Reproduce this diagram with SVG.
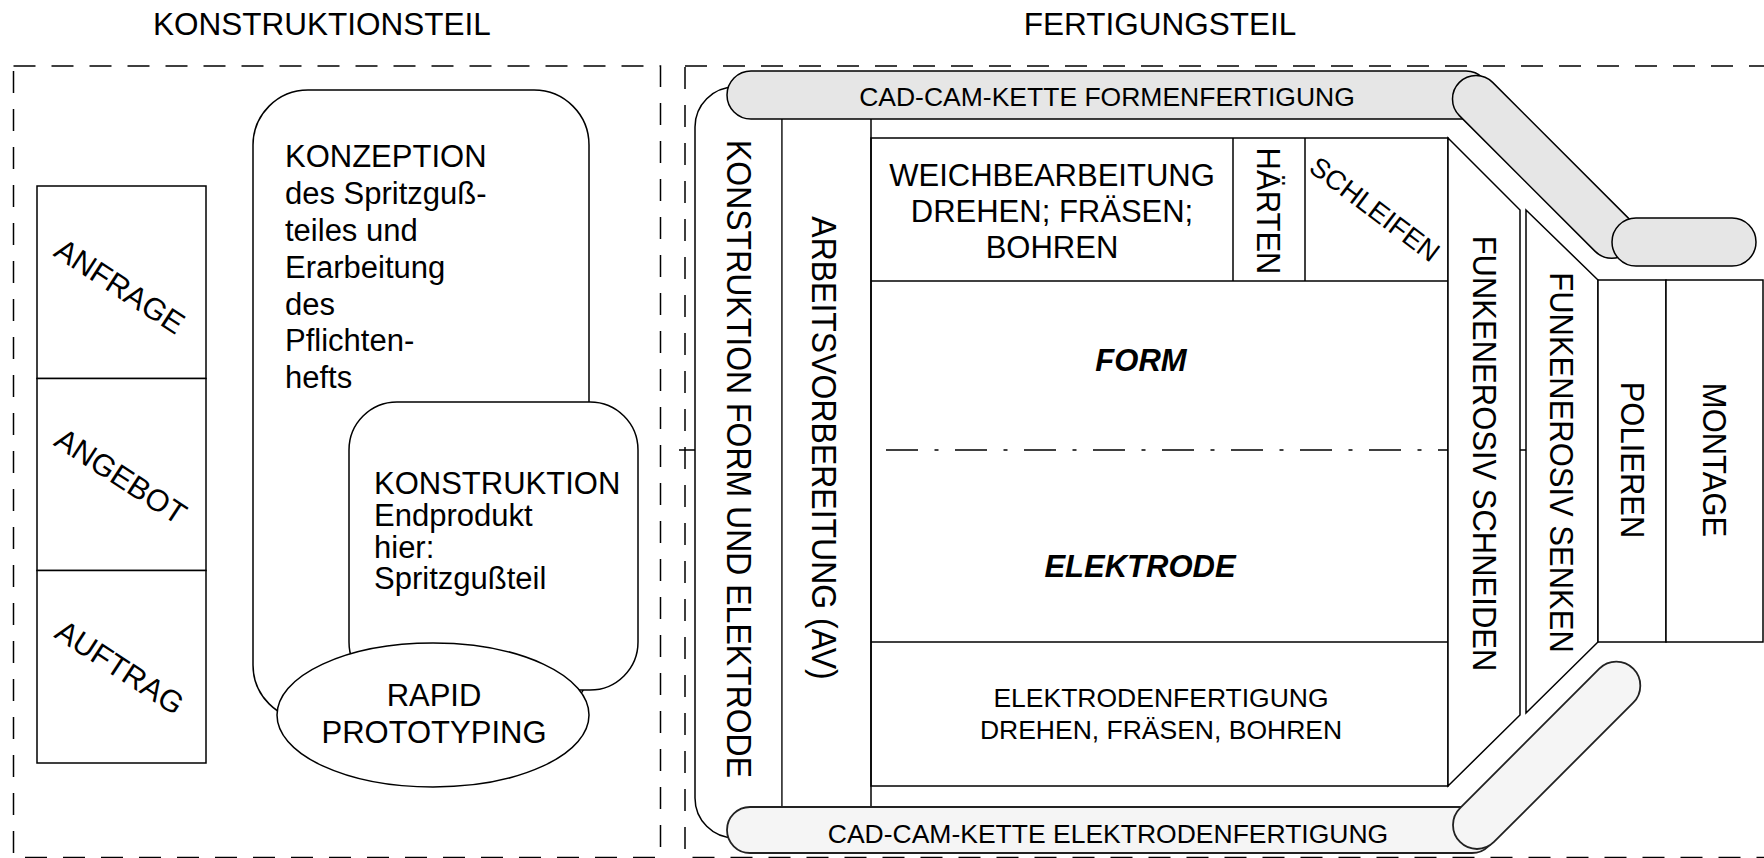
<svg xmlns="http://www.w3.org/2000/svg" width="1764" height="858" viewBox="0 0 1764 858">
<style>
text { font-family: "Liberation Sans", Arial, Helvetica, sans-serif; fill: #000; }
.box { fill: #fff; stroke: #000; stroke-width: 1.5; }
.ln { fill: none; stroke: #000; stroke-width: 1.5; }
.dash { fill: none; stroke: #000; stroke-width: 1.5; stroke-dasharray: 22 16; }
.dashdot { fill: none; stroke: #000; stroke-width: 1.5; stroke-dasharray: 32 16.5 4 16.5; }
.barT { fill: #e6e6e6; stroke: #000; stroke-width: 1.5; }
.barB { fill: #f5f5f5; stroke: #222; stroke-width: 1.8; }
.t31 { font-size: 31px; }
.t32 { font-size: 32px; }
.t30 { font-size: 30.5px; }
.t26 { font-size: 26.5px; }
.mid { text-anchor: middle; }
.bi { font-weight: bold; font-style: italic; }
</style>

<g id="titles">
  <text x="322" y="35" class="mid" font-size="31.5">KONSTRUKTIONSTEIL</text>
  <text x="1160" y="35" class="mid" font-size="31.5">FERTIGUNGSTEIL</text>
</g>

<g id="frames">
  <rect class="dash" x="13.5" y="66" width="647" height="791.5"/>
  <rect class="dash" x="685" y="66" width="1120" height="791.5"/>
</g>

<!-- KONSTRUKTIONSTEIL -->
<g id="anfrage">
  <rect class="box" x="37" y="186" width="169" height="192.5"/>
  <text class="t30 mid" transform="translate(120,286) rotate(33)" y="10.9">ANFRAGE</text>
</g>
<g id="angebot">
  <rect class="box" x="37" y="378.5" width="169" height="192"/>
  <text class="t30 mid" transform="translate(121,476) rotate(33)" y="10.9">ANGEBOT</text>
</g>
<g id="auftrag">
  <rect class="box" x="37" y="570.5" width="169" height="192.5"/>
  <text class="t30 mid" transform="translate(120,667) rotate(33)" y="10.9">AUFTRAG</text>
</g>

<g id="konzeption">
  <rect class="box" x="253" y="90" width="336" height="630" rx="55" ry="55"/>
  <text class="t31" x="285" y="167">KONZEPTION</text>
  <text class="t31" x="285" y="204">des Spritzguß-</text>
  <text class="t31" x="285" y="241">teiles und</text>
  <text class="t31" x="285" y="277.5">Erarbeitung</text>
  <text class="t31" x="285" y="314.5">des</text>
  <text class="t31" x="285" y="351">Pflichten-</text>
  <text class="t31" x="285" y="388">hefts</text>
</g>

<g id="konstruktion">
  <rect class="box" x="349" y="402" width="289" height="288" rx="48" ry="48"/>
  <text class="t31" x="374" y="494">KONSTRUKTION</text>
  <text class="t31" x="374" y="526">Endprodukt</text>
  <text class="t31" x="374" y="557.5">hier:</text>
  <text class="t31" x="374" y="589">Spritzgußteil</text>
</g>

<g id="rapid-prototyping">
  <ellipse class="box" cx="433" cy="715" rx="156" ry="72"/>
  <text class="t31 mid" x="434" y="706">RAPID</text>
  <text class="t31 mid" x="434" y="743">PROTOTYPING</text>
</g>

<!-- FERTIGUNGSTEIL -->
<g id="trennlinie">
  <line class="dashdot" x1="679" y1="450" x2="1526" y2="450"/>
</g>

<g id="konstruktion-form-elektrode">
  <path class="box" d="M782,87 H735 A40,40 0 0 0 695,127 V798 A40,40 0 0 0 735,838 H782 Z"/>
  <text class="t32 mid" transform="translate(727,459) rotate(90) scale(1,1.08)">KONSTRUKTION FORM UND ELEKTRODE</text>
</g>

<g id="arbeitsvorbereitung">
  <rect x="782.8" y="119" width="88" height="688" fill="#fff"/>
  <line class="ln" x1="871" y1="119" x2="871" y2="807"/>
  <text class="t32 mid" transform="translate(812,448) rotate(90) scale(1,1.08)">ARBEITSVORBEREITUNG (AV)</text>
</g>

<g id="form-elektrode-block">
  <rect class="ln" x="871" y="138" width="577" height="648"/>
  <line class="ln" x1="871" y1="281" x2="1448" y2="281"/>
  <line class="ln" x1="871" y1="642" x2="1448" y2="642"/>
</g>

<g id="weichbearbeitung">
  <text class="t31 mid" x="1052" y="186">WEICHBEARBEITUNG</text>
  <text class="t31 mid" x="1052" y="222">DREHEN; FRÄSEN;</text>
  <text class="t31 mid" x="1052" y="258">BOHREN</text>
</g>

<g id="haerten">
  <line class="ln" x1="1233" y1="138" x2="1233" y2="281"/>
  <line class="ln" x1="1305" y1="138" x2="1305" y2="281"/>
  <text class="mid" font-size="31" transform="translate(1257,211) rotate(90) scale(1,1.08)">HÄRTEN</text>
</g>

<g id="schleifen">
  <text class="mid" font-size="27.5" transform="translate(1375,209) rotate(37)" y="9.8">SCHLEIFEN</text>
</g>

<g id="form">
  <text class="t31 mid bi" x="1141" y="371">FORM</text>
</g>
<g id="elektrode">
  <text class="t31 mid bi" x="1140" y="577">ELEKTRODE</text>
</g>
<g id="elektrodenfertigung">
  <text class="t26 mid" x="1161" y="707">ELEKTRODENFERTIGUNG</text>
  <text class="t26 mid" x="1161" y="739">DREHEN, FRÄSEN, BOHREN</text>
</g>

<g id="funkenerosiv-schneiden">
  <polygon class="box" points="1448,138 1520,210 1520,715 1448,786"/>
  <text class="t31 mid" transform="translate(1473,453.5) rotate(90) scale(1,1.1)">FUNKENEROSIV SCHNEIDEN</text>
</g>

<g id="funkenerosiv-senken">
  <polygon class="box" points="1526,210 1598,280 1598,642 1526,713"/>
  <text class="t31 mid" transform="translate(1550,462.5) rotate(90) scale(1,1.1)">FUNKENEROSIV SENKEN</text>
</g>

<g id="polieren">
  <rect class="box" x="1598" y="280" width="68" height="362"/>
  <text class="t31 mid" transform="translate(1621,460) rotate(90) scale(1,1.1)">POLIEREN</text>
</g>

<g id="montage">
  <rect class="box" x="1666" y="280" width="97" height="362"/>
  <text class="t31 mid" transform="translate(1703,460) rotate(90) scale(1,1.1)">MONTAGE</text>
</g>

<g id="cad-cam-formenfertigung">
  <rect class="barT" x="727" y="71" width="763" height="48" rx="24" ry="24"/>
  <rect class="barT" transform="translate(1476,99) rotate(45)" x="-23.5" y="-23.5" width="239" height="47" rx="23.5" ry="23.5"/>
  <rect class="barT" x="1612" y="218" width="144" height="48" rx="24" ry="24"/>
  <text class="t26 mid" x="1107" y="106">CAD-CAM-KETTE FORMENFERTIGUNG</text>
</g>

<g id="cad-cam-elektrodenfertigung">
  <rect class="barB" x="727" y="807" width="768" height="46" rx="23" ry="23"/>
  <rect class="barB" transform="translate(1477,825) rotate(-45)" x="-24" y="-24" width="245" height="48" rx="24" ry="24"/>
  <text class="t26 mid" x="1108" y="843">CAD-CAM-KETTE ELEKTRODENFERTIGUNG</text>
</g>
</svg>
